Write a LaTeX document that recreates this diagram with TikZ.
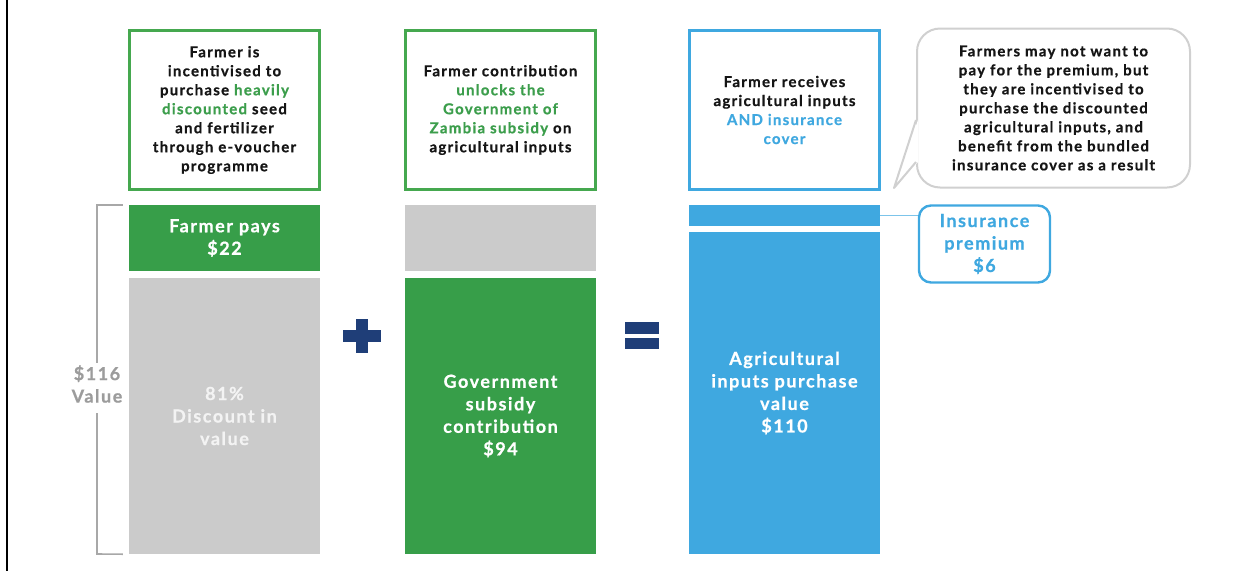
\documentclass[tikz,border=0pt]{standalone}
\usepackage{fontspec}
\setmainfont{Lato}[LetterSpace=8.5, BoldFeatures={FakeBold=0.7}]
\usetikzlibrary{calc}

\definecolor{barGreen}{HTML}{379E49}
\definecolor{lineGreen}{HTML}{45A84F}
\definecolor{textGreen}{HTML}{3C9E4C}
\definecolor{barGray}{HTML}{CBCBCB}
\definecolor{barBlue}{HTML}{3FA8E0}
\definecolor{navy}{HTML}{1F3E78}
\definecolor{ink}{HTML}{151515}
\definecolor{bubbleGray}{HTML}{D0D0D0}
\definecolor{braceGray}{HTML}{A8A8A8}
\definecolor{labelGray}{HTML}{9C9C9C}
\definecolor{paleText}{HTML}{F3F3F3}
\definecolor{linkBlue}{HTML}{7CC4EA}

\tikzset{
  note/.style={draw, line width=2.2pt, fill=white, inner sep=0pt,
    minimum width=190pt, minimum height=159pt,
    align=center, text=ink, font=\fontsize{15}{19}\selectfont\bfseries},
  greennote/.style={note, draw=lineGreen},
  bluenote/.style={note, draw=barBlue},
  bar/.style={inner sep=0pt, minimum width=191pt, align=center, text=white,
    font=\fontsize{18}{22.5}\selectfont\bfseries},
  bubble/.style={draw=bubbleGray, line width=2pt, fill=white, rounded corners=23pt,
    inner sep=0pt, minimum width=273pt, minimum height=159pt,
    align=center, text=ink, font=\fontsize{15}{19}\selectfont\bfseries},
  tag/.style={draw=barBlue, line width=2.4pt, fill=white, rounded corners=12pt,
    inner sep=0pt, minimum width=131pt, minimum height=77pt,
    align=center, text=barBlue, font=\fontsize{18}{22.5}\selectfont\bfseries},
  brace/.style={draw=braceGray, line width=1.6pt},
  opsign/.style={fill=navy},
}

\begin{document}
\begin{tikzpicture}[x=1pt,y=-1pt]
  \useasboundingbox (0,0) rectangle (1253,571);

  % frame line on the left
  \draw[line width=2pt, black] (7,0) -- (7,571);

  % explanatory boxes
  \node[greennote] (n1) at (224.5,110)
    {Farmer is\\incentivised to\\purchase \textcolor{textGreen}{heavily}\\\textcolor{textGreen}{discounted} seed\\and fertilizer\\through e-voucher\\programme};
  \node[greennote] (n2) at (500.5,110)
    {Farmer contribution\\\textcolor{textGreen}{unlocks the}\\\textcolor{textGreen}{Government of}\\\textcolor{textGreen}{Zambia subsidy} on\\agricultural inputs};
  \node[bluenote] (n3) at (784.5,110)
    {Farmer receives\\agricultural inputs\\\textcolor{barBlue}{AND insurance}\\\textcolor{barBlue}{cover}};

  % speech bubble
  \node[bubble] (bub) at (1053.5,108)
    {Farmers may not want to\\pay for the premium, but\\they are incentivised to\\purchase the discounted\\agricultural inputs, and\\benefit from the bundled\\insurance cover as a result};
  \fill[white] ($(bub.west)+(2,12)$) -- (894,188) -- ($(bub.west)+(2,54)$) -- cycle;
  \draw[bubbleGray, line width=2pt, line join=round]
    ($(bub.west)+(0,12)$) -- (894,188) -- ($(bub.west)+(0,54)$);

  % column 1
  \node[bar, fill=barGreen, minimum height=66pt] (pay) at (224.5,238)
    {Farmer pays\\\$22};
  \node[bar, fill=barGray, minimum height=276pt, text=paleText] (disc) at (224.5,416)
    {81\%\\Discount in\\value};

  % column 2
  \node[bar, fill=barGray, minimum height=66pt] (gtop) at (500.5,238) {};
  \node[bar, fill=barGreen, minimum height=276pt] (gov) at (500.5,416)
    {Government\\subsidy\\contribution\\\$94};

  % column 3
  \node[bar, fill=barBlue, minimum height=21pt] (prem) at (784.5,215.5) {};
  \node[bar, fill=barBlue, minimum height=322pt] (agri) at (784.5,393)
    {Agricultural\\inputs purchase\\value\\\$110};

  % premium label and its link
  \node[tag] (ptag) at (984.5,244) {Insurance\\premium\\\$6};
  \draw[linkBlue, line width=1.6pt] (prem.east) -- (prem.east -| ptag.west);

  % total value bracket
  \node[text=labelGray, align=center, font=\fontsize{18}{22.5}\selectfont\bfseries] (total) at (97,384)
    {\$116\\Value};
  \draw[brace] ([xshift=-6pt]pay.north west) -- ([xshift=-32pt]pay.north west) |- (total.north -| 97,0) ;
  \draw[brace] (97,413) -- (97,554) -- ([xshift=-6pt]disc.south west);

  % plus sign
  \fill[opsign] (343,330) rectangle (381,342);
  \fill[opsign] (356,319) rectangle (368,353);

  % equals sign
  \fill[opsign] (625,322) rectangle (659,334);
  \fill[opsign] (625,338) rectangle (659,349);
\end{tikzpicture}
\end{document}
